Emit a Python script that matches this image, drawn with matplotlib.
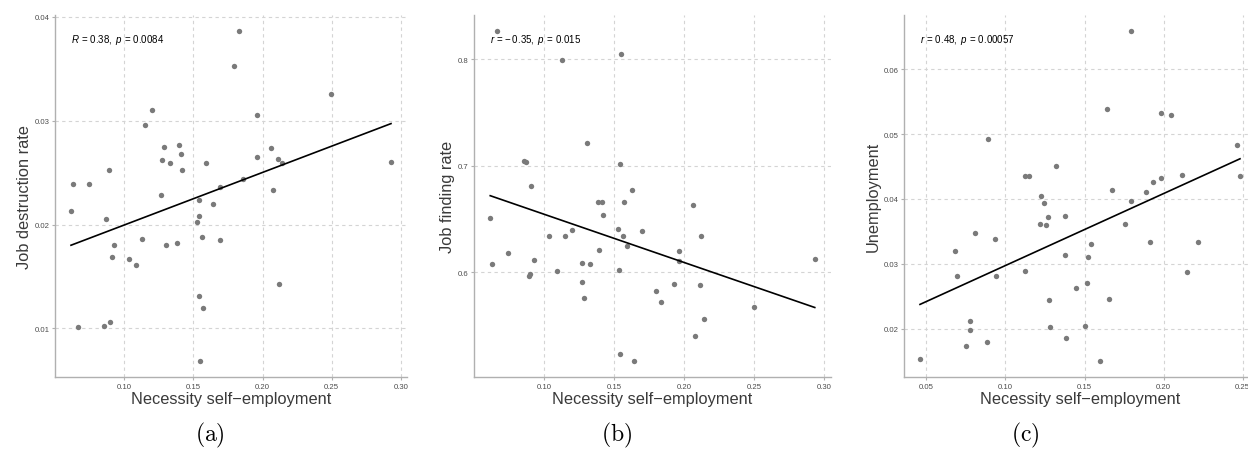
import numpy as np
import matplotlib
matplotlib.use("Agg")
import matplotlib.pyplot as plt

plt.rcParams['font.family'] = ['Liberation Sans', 'DejaVu Sans']
plt.rcParams['mathtext.fontset'] = 'custom'
plt.rcParams['mathtext.rm'] = 'Liberation Sans'
plt.rcParams['mathtext.it'] = 'Liberation Sans:italic'

# ---------------- data ----------------
a_x = [0.0629, 0.0742, 0.0892, 0.1149, 0.1202, 0.1284, 0.1270, 0.1330, 0.1393, 0.1412,
       0.1417, 0.1267, 0.1590, 0.1694, 0.1795, 0.1829, 0.1860, 0.1959, 0.1963, 0.2062,
       0.2110, 0.2139, 0.2077, 0.2496, 0.2929, 0.0615, 0.1537, 0.1643, 0.0868, 0.1542,
       0.1525, 0.0925, 0.0908, 0.1031, 0.1087, 0.1125, 0.1303, 0.1383, 0.1561, 0.1696,
       0.2120, 0.1540, 0.1571, 0.0665, 0.0855, 0.0899, 0.1547]
a_y = [0.0239, 0.0239, 0.0253, 0.0296, 0.0310, 0.0275, 0.0262, 0.0259, 0.0277, 0.0268,
       0.0253, 0.0228, 0.0259, 0.0236, 0.0353, 0.0386, 0.0244, 0.0306, 0.0265, 0.0274,
       0.0263, 0.0259, 0.0233, 0.0326, 0.0260, 0.0213, 0.0224, 0.0220, 0.0205, 0.0208,
       0.0202, 0.0180, 0.0169, 0.0167, 0.0161, 0.0186, 0.0180, 0.0182, 0.0188, 0.0185,
       0.0143, 0.0131, 0.0120, 0.0101, 0.0102, 0.0106, 0.0069]

b_x = [0.0663, 0.1124, 0.1549, 0.1304, 0.0855, 0.0869, 0.1539, 0.0907, 0.1629, 0.1385,
       0.1413, 0.1570, 0.2064, 0.1418, 0.0615, 0.1031, 0.1150, 0.1202, 0.1525, 0.1563,
       0.1698, 0.2119, 0.1591, 0.1394, 0.1964, 0.0743, 0.0629, 0.0924, 0.1273, 0.1330,
       0.1962, 0.2931, 0.0898, 0.0895, 0.1088, 0.1537, 0.1268, 0.1929, 0.2112, 0.1285,
       0.1796, 0.1831, 0.2499, 0.2140, 0.2078, 0.1542, 0.1641]
b_y = [0.8259, 0.7994, 0.8044, 0.7209, 0.7044, 0.7034, 0.7013, 0.6806, 0.6772, 0.6659,
       0.6659, 0.6659, 0.6634, 0.6541, 0.6513, 0.6338, 0.6344, 0.6397, 0.6406, 0.6338,
       0.6391, 0.6341, 0.6244, 0.6213, 0.6200, 0.6181, 0.6075, 0.6119, 0.6084, 0.6075,
       0.6103, 0.6125, 0.5988, 0.5969, 0.6016, 0.6025, 0.5906, 0.5894, 0.5881, 0.5763,
       0.5822, 0.5719, 0.5678, 0.5566, 0.5403, 0.5231, 0.5172]

c_x = [0.1797, 0.1643, 0.1986, 0.2047, 0.0892, 0.2464, 0.1321, 0.1121, 0.1151, 0.2115,
       0.2483, 0.1982, 0.1932, 0.1675, 0.1887, 0.1226, 0.1247, 0.1797, 0.1216, 0.1258,
       0.1268, 0.1376, 0.1757, 0.0809, 0.0934, 0.0681, 0.1538, 0.1911, 0.2220, 0.1374,
       0.1519, 0.1123, 0.0696, 0.0940, 0.2146, 0.1515, 0.1445, 0.1273, 0.1654, 0.0774,
       0.0774, 0.1285, 0.1502, 0.0753, 0.0881, 0.1380, 0.0460, 0.1595]
c_y = [0.0658, 0.0538, 0.0532, 0.0530, 0.0493, 0.0483, 0.0451, 0.0435, 0.0436, 0.0437,
       0.0435, 0.0433, 0.0426, 0.0414, 0.0410, 0.0405, 0.0394, 0.0397, 0.0362, 0.0360,
       0.0372, 0.0374, 0.0362, 0.0348, 0.0338, 0.0319, 0.0330, 0.0333, 0.0334, 0.0313,
       0.0311, 0.0289, 0.0281, 0.0281, 0.0287, 0.0271, 0.0262, 0.0244, 0.0246, 0.0212,
       0.0198, 0.0202, 0.0204, 0.0174, 0.0179, 0.0185, 0.0154, 0.0151]

x_label = "Necessity self\u2212employment"
y_labels = ["Job destruction rate", "Job finding rate", "Unemployment"]
stat_texts = [r"$R\,=\,\mathrm{0.38},\ p\,=\,\mathrm{0.0084}$",
              r"$r\,=\,{-}\,\mathrm{0.35},\ p\,=\,\mathrm{0.015}$",
              r"$r\,=\,\mathrm{0.48},\ p\,=\,\mathrm{0.00057}$"]
captions = ["(a)", "(b)", "(c)"]

x_ticks = [[0.10, 0.15, 0.20, 0.25, 0.30],
           [0.10, 0.15, 0.20, 0.25, 0.30],
           [0.05, 0.10, 0.15, 0.20, 0.25]]
x_ticklabels = [["0.10", "0.15", "0.20", "0.25", "0.30"],
                ["0.10", "0.15", "0.20", "0.25", "0.30"],
                ["0.05", "0.10", "0.15", "0.20", "0.25"]]
y_ticks = [[0.01, 0.02, 0.03, 0.04], [0.6, 0.7, 0.8], [0.02, 0.03, 0.04, 0.05, 0.06]]
y_ticklabels = [["0.01", "0.02", "0.03", "0.04"], ["0.6", "0.7", "0.8"],
                ["0.02", "0.03", "0.04", "0.05", "0.06"]]

# ---------------- figure ----------------
W, H = 1248, 460
fig = plt.figure(figsize=(W / 100, H / 100), dpi=100)

# axes boxes in pixels: left, right, top, bottom
boxes = [(55, 407, 16, 378), (474, 831, 16, 378), (904, 1256, 16, 378)]
caption_x = [210, 617, 1025]

datasets = [(a_x, a_y), (b_x, b_y), (c_x, c_y)]

grid_col = '#d4d4d4'
spine_col = '#b0b0b0'
tick_col = '#4d4d4d'

for i, ((xs, ys), (l, r, t, b)) in enumerate(zip(datasets, boxes)):
    ax = fig.add_axes([l / W, (H - b) / H, (r - l) / W, (b - t) / H])
    xs = np.asarray(xs); ys = np.asarray(ys)
    ax.scatter(xs, ys, s=15, color='#7a7a7a', linewidths=0, zorder=3)
    k, c0 = np.polyfit(xs, ys, 1)
    xl = np.array([xs.min(), xs.max()])
    ax.plot(xl, k * xl + c0, color='black', lw=1.2, zorder=4)

    xr = xs.max() - xs.min(); yr = ys.max() - ys.min()
    ax.set_xlim(xs.min() - 0.05 * xr, xs.max() + 0.05 * xr)
    ax.set_ylim(ys.min() - 0.05 * yr, ys.max() + 0.05 * yr)

    ax.set_xticks(x_ticks[i]); ax.set_xticklabels(x_ticklabels[i])
    ax.set_yticks(y_ticks[i]); ax.set_yticklabels(y_ticklabels[i])
    ax.tick_params(axis='both', labelsize=5.6, colors=spine_col, labelcolor=tick_col,
                   length=2.5, width=0.8, pad=1.5)
    ax.grid(True, color=grid_col, linestyle=(0, (3, 3)), linewidth=0.8)
    ax.set_axisbelow(True)
    for s in ['top', 'right']:
        ax.spines[s].set_visible(False)
    for s in ['left', 'bottom']:
        ax.spines[s].set_color(spine_col)
        ax.spines[s].set_linewidth(1.0)

    ax.set_xlabel(x_label, fontsize=11.8, color='#3a3a3a', labelpad=1)
    ax.set_ylabel(y_labels[i], fontsize=11.8, color='#3a3a3a', labelpad=2)

    ax.text(0.045, 0.934, stat_texts[i], transform=ax.transAxes, fontsize=7,
            ha='left', va='center', color='black')

    fig.text(caption_x[i] / W, 1 - 435 / H, r"$\mathrm{" + captions[i] + "}$",
             fontsize=17, ha='center', va='center', math_fontfamily='cm')

fig.savefig("out.png", dpi=100, facecolor='white')
